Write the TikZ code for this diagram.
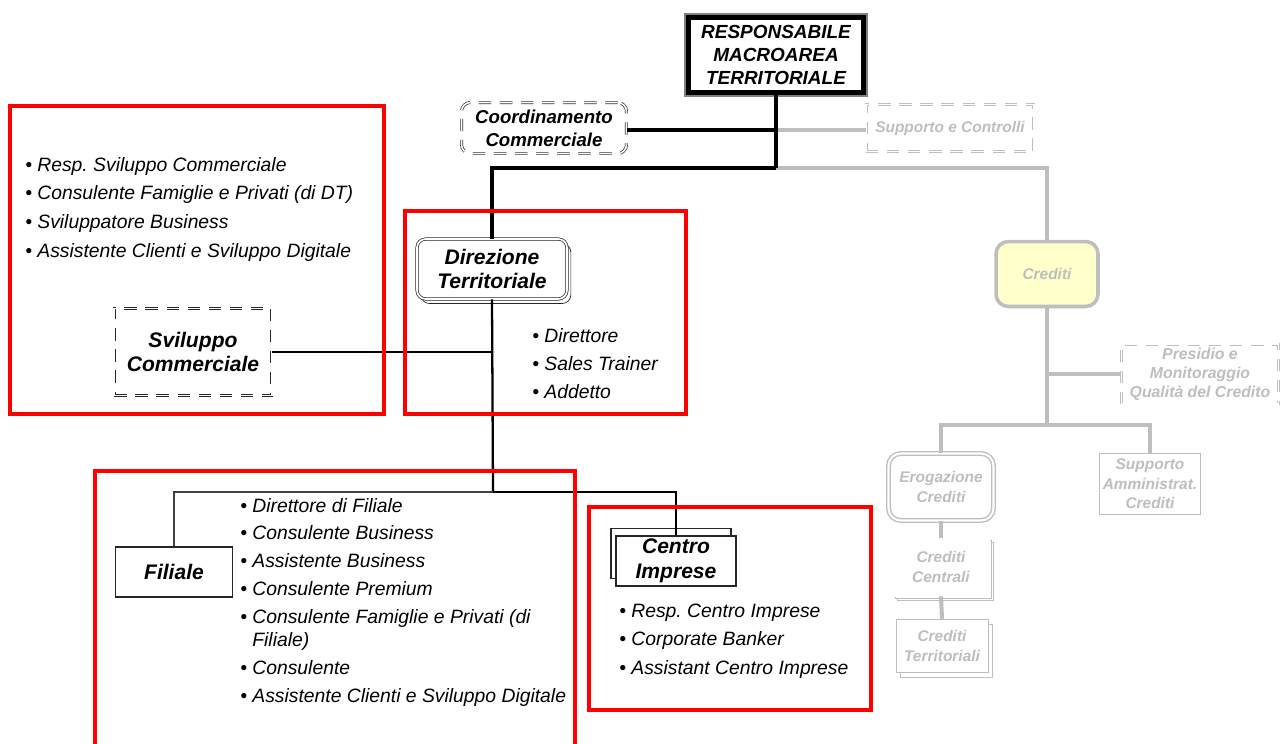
\documentclass[tikz,border=0pt]{standalone}
\usepackage{fontspec}
\setmainfont{Liberation Sans}
\frenchspacing
\usetikzlibrary{positioning}
\usetikzlibrary{shadows}

\definecolor{giallino}{RGB}{255,255,204}
\definecolor{grigio}{RGB}{190,190,190}

\tikzset{
    etichetta/.style={align=center, inner sep=1pt, font=\bfseries\itshape\fontsize{12}{14}\selectfont},
    spento/.style={align=center, inner sep=1pt, draw=grigio, fill=white, text=grigio, font=\bfseries\itshape\fontsize{8.8}{11}\selectfont},
    tratteggio/.style={dash pattern=on 7pt off 5pt},
    voci/.style={anchor=base west, inner sep=0pt, align=left},
    area/.style={draw=red, line width=2.2pt},
    linea/.style={line width=2.3pt},
    lineagrigia/.style={draw=grigio, line width=2.3pt},
}

\newcommand{\elenco}[1]{\begin{tabular}[t]{@{}l@{\hspace{3pt}}l@{}}#1\end{tabular}}

\begin{document}
\begin{tikzpicture}[x=0.02cm, y=-0.02cm]
        \useasboundingbox (0,0) rectangle (1282,744);

        % Vertice
        \node[etichetta, draw=black, line width=2.6pt, fill=white,
              preaction={draw=gray, line width=4.6pt, rounded corners=1pt},
              minimum width=3.5cm, minimum height=1.5cm,
              font=\bfseries\itshape\fontsize{10.8}{13}\selectfont] (rmt) at (776,55)
              {RESPONSABILE\\MACROAREA\\TERRITORIALE};

        \node[etichetta, draw=black!80, double=white, double distance=0.9pt, tratteggio,
              rounded corners=5pt, fill=white, minimum width=3.3cm, minimum height=1.02cm,
              font=\bfseries\itshape\fontsize{10.6}{13}\selectfont] (coord) at (544,128)
              {Coordinamento\\Commerciale};

        \node[spento, double=white, double distance=0.9pt, tratteggio,
              minimum width=3.36cm, minimum height=0.94cm] (supp) at (950,128)
              {Supporto e Controlli};

        % Direzione Territoriale
        \node[etichetta, draw=black!85, double=white, double distance=1pt, rounded corners=5pt,
              fill=white, minimum width=3.0cm, minimum height=1.2cm,
              copy shadow={shadow xshift=2.2pt, shadow yshift=-2.6pt}] (dt) at (492,269)
              {Direzione\\Territoriale};

        \node[etichetta, draw=black!85, double=white, double distance=0.9pt, tratteggio,
              fill=white, minimum width=3.15cm, minimum height=1.74cm] (svil) at (193,352)
              {Sviluppo\\Commerciale};

        \node[etichetta, draw=black!85, line width=0.8pt, fill=white,
              minimum width=2.34cm, minimum height=1.0cm] (fil) at (174,572) {Filiale};

        \node[etichetta, draw=black!85, line width=0.8pt, fill=white,
              minimum width=2.4cm, minimum height=1.0cm,
              copy shadow={shadow xshift=-2.8pt, shadow yshift=4.4pt}] (ci) at (676,561)
              {Centro\\Imprese};

        % Crediti (spento)
        \node[spento, line width=2pt, rounded corners=7pt, fill=giallino,
              minimum width=2.04cm, minimum height=1.3cm] (cred) at (1047,274) {Crediti};

        \node[spento, double=white, double distance=0.9pt, tratteggio,
              minimum width=3.14cm, minimum height=1.2cm,
              font=\bfseries\itshape\fontsize{9}{10.8}\selectfont] (pres) at (1200,374)
              {Presidio e\\Monitoraggio\\Qualità del Credito};

        \node[spento, double=white, double distance=1.2pt, line width=0.8pt, rounded corners=7pt,
              minimum width=2.1cm, minimum height=1.34cm] (erog) at (941,487)
              {Erogazione\\Crediti};

        \node[spento, double=white, double distance=0.6pt,
              minimum width=1.92cm, minimum height=1.16cm,
              double copy shadow={shadow xshift=1.3pt, shadow yshift=-1.3pt}] (ccen) at (941,567)
              {Crediti\\Centrali};

        \node[spento, minimum width=1.84cm, minimum height=1.06cm,
              copy shadow={shadow xshift=2.6pt, shadow yshift=-2.6pt}] (cter) at (942,646)
              {Crediti\\Territoriali};

        \node[spento, minimum width=2.02cm, minimum height=1.22cm] (sam) at (1150,484)
              {Supporto\\Amministrat.\\Crediti};

        % Collegamenti
        \coordinate (a) at (776,168);
        \coordinate (b) at (776,130);
        \coordinate (c) at (493,352);
        \coordinate (d) at (493,492);
        \coordinate (e) at (1047,374);
        \coordinate (f) at (1047,425);

        \draw[lineagrigia] (b) -- (supp.west |- b);
        \draw[lineagrigia] (a) -| (cred.north);
        \draw[lineagrigia] (cred.south) -- (f);
        \draw[lineagrigia] (e) -- (pres.west |- e);
        \draw[lineagrigia] (f) -| (erog.north);
        \draw[lineagrigia] (f) -| (sam.north);
        \draw[lineagrigia] (erog.south) -- (ccen.north);
        \draw[lineagrigia] (ccen.south) -- (cter.north);

        \draw[linea] (rmt.south) -- (a);
        \draw[linea] (b) -- (coord.east |- b);
        \draw[linea] (a) -| (dt.north);
        \draw[line width=1.3pt] (dt.south) -- (d);
        \draw[line width=1.3pt] (svil.east) -- (c);
        \draw[line width=1.6pt] (d) -| (ci.north);
        \draw[line width=1pt, black!75] (d) -| (fil.north);

        % Aree
        \draw[area] (10,106) rectangle (384,414);
        \draw[area] (405,211) rectangle (686,414);
        \draw[area] (95,471) rectangle (575,760);
        \draw[area] (589,507) rectangle (871,710);

        % Elenchi
        \node[voci, font=\itshape\fontsize{11}{16.4}\selectfont] (vsvil) at (25,171)
            {\elenco{\textbullet & Resp. Sviluppo Commerciale\\
                     \textbullet & Consulente Famiglie e Privati (di DT)\\
                     \textbullet & Sviluppatore Business\\
                     \textbullet & Assistente Clienti e Sviluppo Digitale}};

        \node[voci, font=\itshape\fontsize{11}{16.2}\selectfont] (vdt) at (532,342)
            {\elenco{\textbullet & Direttore\\
                     \textbullet & Sales Trainer\\
                     \textbullet & Addetto}};

        \node[voci, font=\itshape\fontsize{11}{15.9}\selectfont] (vfil) at (240,512)
            {\elenco{\textbullet & Direttore di Filiale\\
                     \textbullet & Consulente Business\\
                     \textbullet & Assistente Business\\
                     \textbullet & Consulente Premium\\
                     \textbullet & Consulente Famiglie e Privati (di\\[-2.9pt]
                                 & Filiale)\\
                     \textbullet & Consulente\\
                     \textbullet & Assistente Clienti e Sviluppo Digitale}};

        \node[voci, font=\itshape\fontsize{11}{16.4}\selectfont] (vci) at (619,617)
            {\elenco{\textbullet & Resp. Centro Imprese\\
                     \textbullet & Corporate Banker\\
                     \textbullet & Assistant Centro Imprese}};
    \end{tikzpicture}
\end{document}
